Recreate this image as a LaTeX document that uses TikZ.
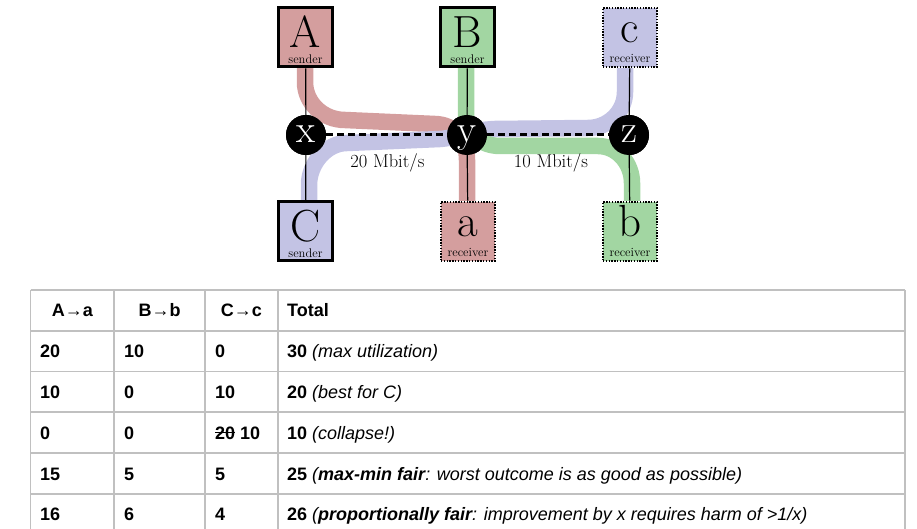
\documentclass[tikz,border=0pt]{standalone}
\usepackage{fontspec}
\newfontfamily\tabfont{Liberation Sans}
\definecolor{redf}{HTML}{D49E9E}
\definecolor{greenf}{HTML}{A2D6A2}
\definecolor{bluef}{HTML}{C3C3E4}
\definecolor{gridc}{HTML}{C0C0C0}
\newcommand\mystrike[1]{{\setbox0=\hbox{#1}\rlap{\rule[0.33em]{\wd0}{1.3bp}}\box0}}
\tikzset{
  band/.style={line width=16.5bp},
  sendbox/.style={draw=black, line width=3bp, minimum width=54bp, minimum height=59bp, inner sep=0pt},
  recvbox/.style={sendbox, line width=2.6bp, dash pattern=on 1.4bp off 1.4bp},
  router/.style={circle, fill=black, minimum size=40bp, inner sep=0pt},
  thin/.style={draw=black, line width=1.2bp},
  linkline/.style={draw=black, line width=3bp, dash pattern=on 7bp off 4bp},
  bigl/.style={anchor=base, inner sep=0pt, text depth=0pt, font=\fontsize{45bp}{45bp}\selectfont},
  rl/.style={anchor=base, inner sep=0pt, font=\fontsize{39bp}{39bp}\selectfont, text=white},
  smalll/.style={anchor=base, inner sep=0pt, text height=7bp, font=\fontsize{12.5bp}{13bp}\selectfont},
  ratel/.style={anchor=base, inner sep=0pt, font=\fontsize{18.5bp}{18.5bp}\selectfont},
  cellc/.style={anchor=base, inner sep=0pt, font=\tabfont\bfseries\fontsize{18bp}{20bp}\selectfont},
  celll/.style={cellc, anchor=base west},
  grid/.style={draw=gridc, line width=1.3bp}
}
\begin{document}
\begin{tikzpicture}[x=1bp, y=-1bp]
\useasboundingbox (0,0) rectangle (917,529);
% routers (positions)
\node[router] (x) at (306,135) {};
\node[router] (y) at (467,135) {};
\node[router] (z) at (629,135) {};
% bands
\draw[band, redf] (305,68) -- (305,82) .. controls (305,103) and (323,120) .. (345,120)
  -- (435,124) .. controls (455,124.5) and (467,140) .. (467,160) -- (467,201);
\draw[band, bluef] (309,201) -- (309,185) .. controls (309,164) and (326,143) .. (347,143)
  -- (440,139) .. controls (456,138) and (470,130) .. (495,129) -- (588,128)
  .. controls (608,128) and (625,112) .. (625,92) -- (625,68);
\draw[band, greenf] (466,68) -- (466,118) .. controls (466,134) and (482,146) .. (500,146)
  -- (598,146) .. controls (617,146) and (632,163) .. (632,183) -- (632,201);
% boxes
\node[sendbox, fill=redf] (A) at (305.5,37.5) {};
\node[sendbox, fill=greenf] (B) at (467.5,37.5) {};
\node[recvbox, fill=bluef] (c) at (630,37.5) {};
\node[sendbox, fill=bluef] (C) at (305.5,231.5) {};
\node[recvbox, fill=redf] (a) at (468,231.5) {};
\node[recvbox, fill=greenf] (b) at (630,231.5) {};
% connectors
\draw[thin] (A) -- (x);
\draw[thin] (x) -- (C);
\draw[thin] (B) -- (y);
\draw[thin] (y) -- (a);
\draw[thin] (c) -- (z);
\draw[thin] (z) -- (b);
\draw[linkline] (x.east) -- (y.west);
\draw[linkline] (y.east) -- (z.west);
% routers over bands and connectors
\node[router] (x3) at (x) {};
\node[router] (y3) at (y) {};
\node[router] (z3) at (z) {};
\node[rl] (xl) at (306,143) {x};
\node[rl] (yl) at (467,143) {y};
\node[rl] (zl) at (629,143) {z};
% box labels
\node[bigl] (Al) at (305.5,47.5) {A};
\node[smalll] (As) at (305.5,63.5) {sender};
\node[bigl] (Bl) at (467.5,47.5) {B};
\node[smalll] (Bs) at (467.5,63.5) {sender};
\node[bigl] (cl) at (630,42.5) {c};
\node[smalll] (cs) at (630,63) {receiver};
\node[bigl] (Cl) at (305.5,242) {C};
\node[smalll] (Cs) at (305.5,258) {sender};
\node[bigl] (al) at (468,237) {a};
\node[smalll] (as) at (468,257) {receiver};
\node[bigl] (bl) at (630,237) {b};
\node[smalll] (bs) at (630,257) {receiver};
% link rates
\node[ratel] (r1) at (387.5,168) {20 Mbit/s};
\node[ratel] (r2) at (551,168) {10 Mbit/s};
% table grid
\foreach \yy in {290,331,371.5,412,453,494}
  \draw[grid] (30.7,\yy) -- (905,\yy);
\foreach \xx in {30.7,114,205,278,905}
  \draw[grid] (\xx,290) -- (\xx,529);
% header
\node[cellc] (h1) at (72.4,317) {A→a};
\node[cellc] (h2) at (159.5,317) {B→b};
\node[cellc] (h3) at (241.5,317) {C→c};
\node[celll] (h4) at (287,317) {Total};
% rows
\node[celll] (r11) at (40,357.5) {20};
\node[celll] (r12) at (124,357.5) {10};
\node[celll] (r13) at (215,357.5) {0};
\node[celll] (r14) at (287,357.5) {30 \mdseries\itshape(max utilization)};
\node[celll] (r21) at (40,398) {10};
\node[celll] (r22) at (124,398) {0};
\node[celll] (r23) at (215,398) {10};
\node[celll] (r24) at (287,398) {20 \mdseries\itshape(best for C)};
\node[celll] (r31) at (40,439) {0};
\node[celll] (r32) at (124,439) {0};
\node[celll] (r33) at (215,439) {\mystrike{20} 10};
\node[celll] (r34) at (287,439) {10 \mdseries\itshape(collapse!)};
\node[celll] (r41) at (40,480) {15};
\node[celll] (r42) at (124,480) {5};
\node[celll] (r43) at (215,480) {5};
\node[celll] (r44) at (287,480) {25 {\mdseries\itshape(}{\bfseries\itshape max-min fair}{\mdseries\itshape: worst outcome is as good as possible)}};
\node[celll] (r51) at (40,520.5) {16};
\node[celll] (r52) at (124,520.5) {6};
\node[celll] (r53) at (215,520.5) {4};
\node[celll] (r54) at (287,520.5) {26 {\mdseries\itshape(}{\bfseries\itshape proportionally fair}{\mdseries\itshape: improvement by x requires harm of >1/x)}};
\end{tikzpicture}
\end{document}
